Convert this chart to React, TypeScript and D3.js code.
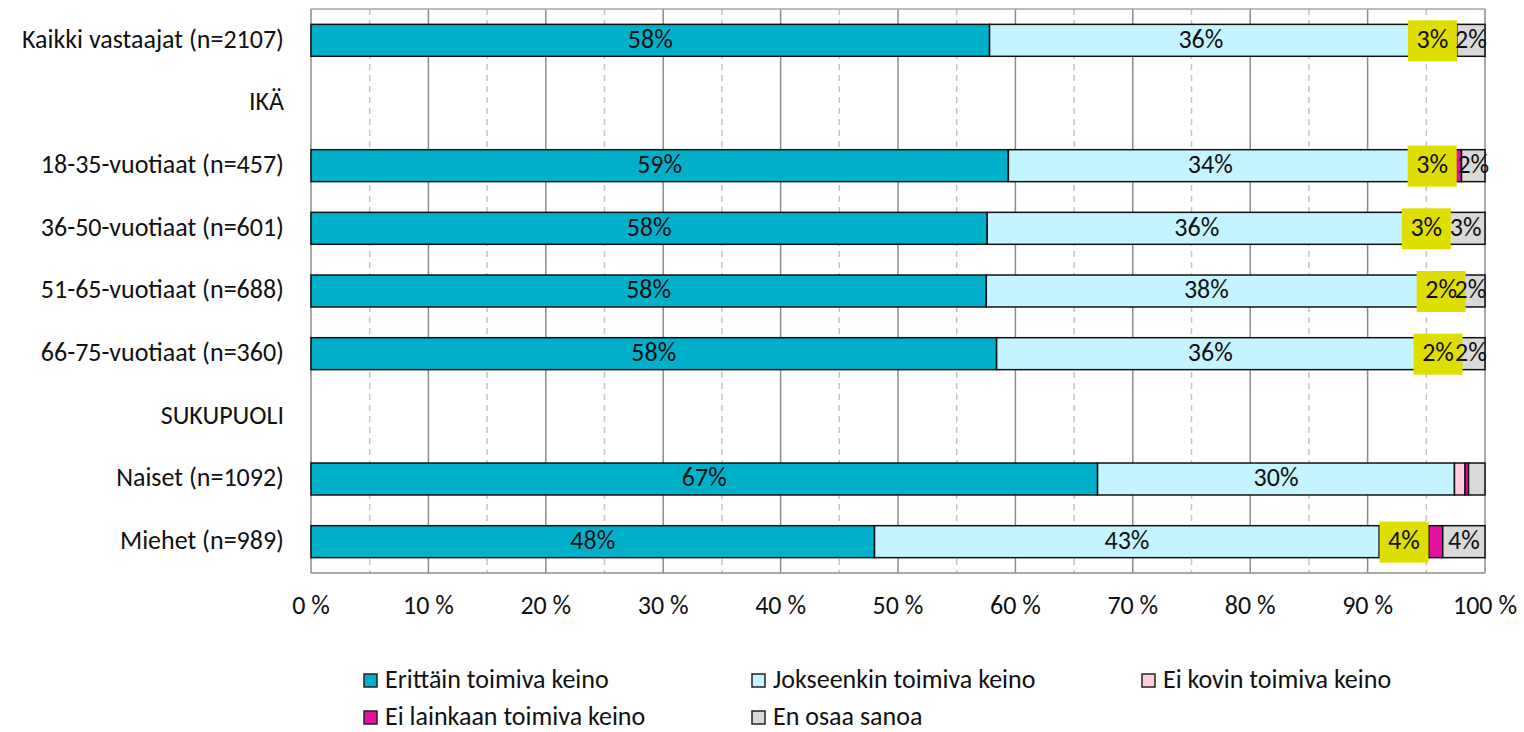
import React from "react";
import * as d3 from "d3";

// categories (header rows have no values)
const categories = [
  "Kaikki vastaajat (n=2107)",
  "IKÄ",
  "18-35-vuotiaat (n=457)",
  "36-50-vuotiaat (n=601)",
  "51-65-vuotiaat (n=688)",
  "66-75-vuotiaat (n=360)",
  "SUKUPUOLI",
  "Naiset (n=1092)",
  "Miehet (n=989)",
];

const seriesNames = [
  "Erittäin toimiva keino",
  "Jokseenkin toimiva keino",
  "Ei kovin toimiva keino",
  "Ei lainkaan toimiva keino",
  "En osaa sanoa",
];
const colors = ["#00B0CA", "#C4F4FF", "#FFCCE1", "#E3119F", "#D9D9D9"];

const erittain = [57.8, null, 59.4, 57.6, 57.52, 58.4, null, 67.0, 48.0];
const jokseenkin = [36.0, null, 34.4, 35.7, 37.5, 36.4, null, 30.4, 43.0];
const eiKovin = [3.45, null, 3.4, 3.4, 2.49, 2.4, null, 0.9, 4.2];
const eiLainkaan = [0.35, null, 0.8, 0, 0, 0.4, null, 0.3, 1.2];
const enOsaa = [2.4, null, 2.0, 3.3, 2.49, 2.4, null, 1.4, 3.6];

const series = [erittain, jokseenkin, eiKovin, eiLainkaan, enOsaa];
const ticks = d3.range(0, 101, 10);

const FONT = "Carlito, Calibri, Lato, 'Open Sans', sans-serif";
const FS = 26;

export default function App() {
  const x = d3.scaleLinear().domain([0, 100]).range([311, 1485]);
  const y = d3
    .scaleBand<string>()
    .domain(categories)
    .range([9, 573])
    .paddingInner(0.49)
    .paddingOuter(0.245);
  const bw = y.bandwidth();

  const rows = categories.map((c, i) => {
    let acc = 0;
    return series.map((s, k) => {
      const v = s[i];
      const x0 = acc;
      acc += v ?? 0;
      return { c, k, v, x0, x1: acc };
    });
  });

  return (
    <svg
      width={1524}
      height={732}
      style={{ position: "absolute", left: 0, top: 0, fontFamily: FONT }}
    >
      {/* minor dashed grid */}
      {d3.range(5, 100, 10).map((t) => (
        <line
          key={"m" + t}
          x1={x(t)}
          x2={x(t)}
          y1={9}
          y2={573}
          stroke="#C4C4C4"
          strokeWidth={1.5}
          strokeDasharray="6,5"
        />
      ))}
      {/* major grid */}
      {ticks.map((t) => (
        <line
          key={"g" + t}
          x1={x(t)}
          x2={x(t)}
          y1={9}
          y2={573}
          stroke="#8C8C8C"
          strokeWidth={1.5}
        />
      ))}
      <line x1={x(0)} x2={x(100)} y1={9} y2={9} stroke="#A6A6A6" strokeWidth={1.5} />
      <line x1={x(0)} x2={x(100)} y1={573} y2={573} stroke="#8C8C8C" strokeWidth={1.5} />

      {/* bars */}
      {rows.map((segs, i) =>
        segs.map((d) =>
          d.v ? (
            <rect
              key={i + "-" + d.k}
              x={x(d.x0)}
              y={y(d.c)!}
              width={x(d.x1) - x(d.x0)}
              height={bw}
              fill={colors[d.k]}
              stroke="#111"
              strokeWidth={1.5}
            />
          ) : null
        )
      )}

      {/* value labels */}
      {rows.map((segs, i) =>
        segs.map((d) => {
          if (d.v == null || d.v < 1.5) return null;
          const cx = (x(d.x0) + x(d.x1)) / 2;
          const cy = y(d.c)! + bw / 2;
          const hl = d.k === 2;
          return (
            <g key={"l" + i + "-" + d.k}>
              {hl && (
                <rect x={cx - 24.5} y={cy - 20} width={49} height={41} fill="#DEDE00" />
              )}
              <text
                x={cx}
                y={cy + 1}
                textAnchor="middle"
                dominantBaseline="middle"
                fontSize={FS}
                fill="#111"
              >
                {Math.round(d.v) + "%"}
              </text>
            </g>
          );
        })
      )}

      {/* category labels */}
      {categories.map((c) => (
        <text
          key={"c" + c}
          x={284}
          y={y(c)! + bw / 2 + 1}
          textAnchor="end"
          dominantBaseline="middle"
          fontSize={FS}
          fill="#111"
        >
          {c}
        </text>
      ))}

      {/* x axis labels */}
      {ticks.map((t) => (
        <text
          key={"t" + t}
          x={x(t)}
          y={608}
          textAnchor="middle"
          dominantBaseline="middle"
          fontSize={FS}
          fill="#111"
        >
          {t + " %"}
        </text>
      ))}

      {/* legend */}
      {seriesNames.map((n, k) => {
        const col = k % 3;
        const row = Math.floor(k / 3);
        const lx = [364, 752, 1142][col];
        const ly = [681, 718][row];
        return (
          <g key={"lg" + k}>
            <rect
              x={lx}
              y={ly - 7}
              width={13}
              height={13}
              fill={colors[k]}
              stroke="#222"
              strokeWidth={1.5}
            />
            <text x={lx + 21} y={ly + 1} dominantBaseline="middle" fontSize={FS} fill="#111">
              {n}
            </text>
          </g>
        );
      })}
    </svg>
  );
}
